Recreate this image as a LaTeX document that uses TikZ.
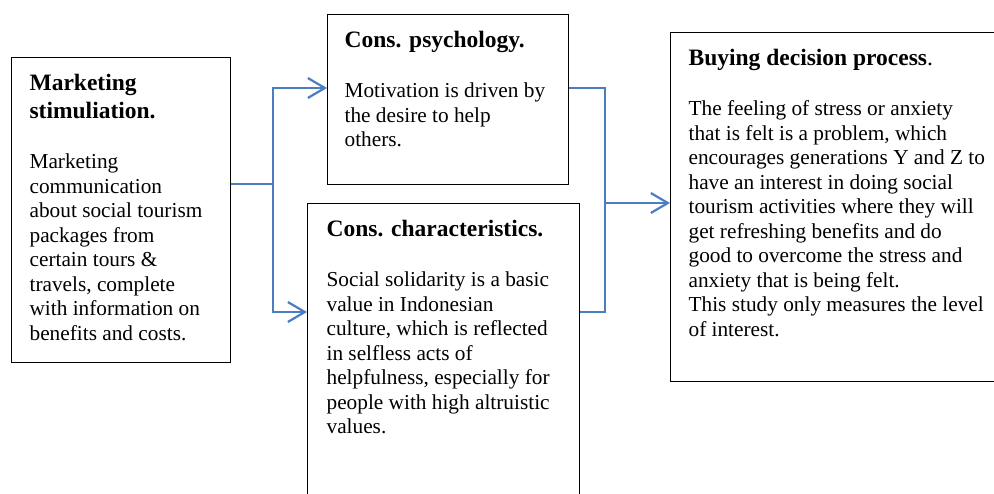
\documentclass[tikz,border=0pt]{standalone}
\usepackage{fontspec}
\setmainfont{Liberation Serif}
\usepackage{tikz}
\usetikzlibrary{arrows.meta}
\usetikzlibrary{positioning}
\definecolor{linkblue}{HTML}{4A7EC0}
\tikzset{panel/.style={draw=black,line width=1.2pt,anchor=north west,inner xsep=18pt,inner ysep=0pt}}
\tikzset{link/.style={draw=linkblue,line width=2.2pt}}
\tikzset{arrow/.style={link,-{Straight Barb[length=17pt,width=20pt]}}}
\newcommand{\paneltext}[4]{%
    \parbox[t][#2][t]{#1}{\vspace*{16.5pt}%
    {\fontsize{23.5}{28}\selectfont\bfseries #3\par}\vspace{26pt}%
    {\fontsize{21.3}{24.5}\selectfont #4\par}}%
}

\begin{document}
\begin{tikzpicture}[x=1pt,y=-1pt]
        \useasboundingbox (0,0) rectangle (994,493);

        \node[panel] (ms) at (11,57) {\paneltext{183pt}{305pt}
            {Marketing\\stimuliation.}
            {Marketing\\communication\\about social tourism\\packages from\\certain tours \&\\travels, complete\\with information on\\benefits and costs.}};
        \node[panel,inner xsep=17pt] (cp) at (327,14) {\paneltext{207pt}{170pt}
            {Cons. psychology.}
            {Motivation is driven by\\the desire to help\\others.}};
        \node[panel,inner xsep=19pt] (cc) at (307,203) {\paneltext{234pt}{310pt}
            {Cons. characteristics.}
            {Social solidarity is a basic\\value in Indonesian\\culture, which is reflected\\in selfless acts of\\helpfulness, especially for\\people with high altruistic\\values.}};
        \node[panel] (bd) at (670,32) {\paneltext{324pt}{349pt}
            {Buying decision process\textmd{.}}
            {The feeling of stress or anxiety\\that is felt is a problem, which\\encourages generations Y and Z to\\have an interest in doing social\\tourism activities where they will\\get refreshing benefits and do\\good to overcome the stress and\\anxiety that is being felt.\\This study only measures the level\\of interest.}};

        \coordinate (fork) at (273,184);
        \coordinate (join) at (605,203);

        \draw[link] (ms.east |- fork) -- (fork);
        \draw[arrow] (fork) |- ([yshift=-74pt]cp.north west);
        \draw[arrow] (fork) |- ([yshift=-109pt]cc.north west);
        \draw[link] ([yshift=-74pt]cp.north east) -| (join);
        \draw[link] ([yshift=-109pt]cc.north east) -| (join);
        \draw[arrow] (join) -- (join -| bd.west);
\end{tikzpicture}
\end{document}
